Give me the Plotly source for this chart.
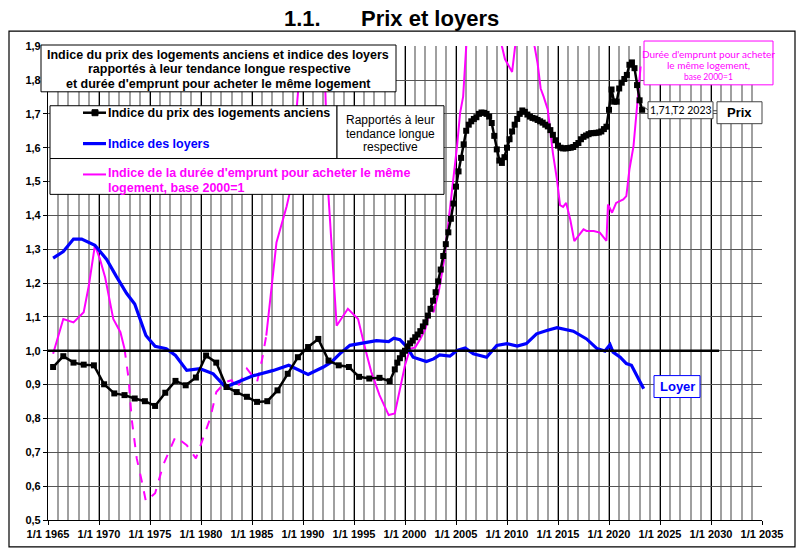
import plotly.graph_objects as go

# ---------------- DATA ----------------
# Indice du prix des logements anciens (annual then quarterly)
prix_x = [1965.5, 1966.5, 1967.5, 1968.5, 1969.5, 1970.5, 1971.5, 1972.5, 1973.5, 1974.5,
          1975.5, 1976.5, 1977.5, 1978.5, 1979.5, 1980.5, 1981.5, 1982.5, 1983.5, 1984.5,
          1985.5, 1986.5, 1987.5, 1988.5, 1989.5, 1990.5, 1991.5, 1992.5, 1993.5, 1994.5,
          1995.5, 1996.5, 1997.5, 1998.5,
          1999.0, 1999.25, 1999.5, 1999.75, 2000.0, 2000.25, 2000.5, 2000.75,
          2001.0, 2001.25, 2001.5, 2001.75, 2002.0, 2002.25, 2002.5, 2002.75,
          2003.0, 2003.25, 2003.5, 2003.75, 2004.0, 2004.25, 2004.5, 2004.75,
          2005.0, 2005.25, 2005.5, 2005.75, 2006.0, 2006.25, 2006.5, 2006.75,
          2007.0, 2007.25, 2007.5, 2007.75, 2008.0, 2008.25, 2008.5, 2008.75,
          2009.0, 2009.25, 2009.5, 2009.75, 2010.0, 2010.25, 2010.5, 2010.75,
          2011.0, 2011.25, 2011.5, 2011.75, 2012.0, 2012.25, 2012.5, 2012.75,
          2013.0, 2013.25, 2013.5, 2013.75, 2014.0, 2014.25, 2014.5, 2014.75,
          2015.0, 2015.25, 2015.5, 2015.75, 2016.0, 2016.25, 2016.5, 2016.75,
          2017.0, 2017.25, 2017.5, 2017.75, 2018.0, 2018.25, 2018.5, 2018.75,
          2019.0, 2019.25, 2019.5, 2019.75, 2020.0, 2020.25, 2020.5, 2020.75,
          2021.0, 2021.25, 2021.5, 2021.75, 2022.0, 2022.25, 2022.5, 2022.75,
          2023.0, 2023.25]
prix_y = [0.952, 0.984, 0.965, 0.959, 0.957, 0.901, 0.874, 0.869, 0.859, 0.851,
          0.837, 0.876, 0.911, 0.898, 0.921, 0.986, 0.965, 0.893, 0.878, 0.864,
          0.849, 0.851, 0.883, 0.932, 0.981, 1.011, 1.035, 0.971, 0.957, 0.952,
          0.923, 0.918, 0.920, 0.910,
          0.945, 0.965, 0.978, 0.990, 1.000, 1.013, 1.022, 1.030,
          1.040, 1.048, 1.058, 1.072, 1.084, 1.104, 1.124, 1.148,
          1.173, 1.205, 1.240, 1.280, 1.315, 1.350, 1.390, 1.435,
          1.485, 1.530, 1.570, 1.610, 1.650, 1.668, 1.678, 1.685,
          1.690, 1.700, 1.704, 1.703, 1.700, 1.692, 1.673, 1.635,
          1.595, 1.562, 1.555, 1.572, 1.600, 1.625, 1.648, 1.668,
          1.685, 1.700, 1.710, 1.706, 1.698, 1.692, 1.688, 1.686,
          1.682, 1.678, 1.674, 1.668, 1.663, 1.652, 1.638, 1.622,
          1.606, 1.600, 1.598, 1.598, 1.599, 1.600, 1.602, 1.608,
          1.614, 1.625, 1.632, 1.636, 1.640, 1.643, 1.643, 1.644,
          1.645, 1.648, 1.655, 1.662, 1.712, 1.772, 1.736, 1.736,
          1.775, 1.792, 1.803, 1.815, 1.845, 1.852, 1.835, 1.785,
          1.740, 1.712]

# Indice des loyers
loyer_x = [1965.5, 1966.5, 1967.5, 1968.3, 1969.6, 1970.75, 1971.7, 1972.7, 1973.5, 1974.0,
           1974.6, 1975.5, 1976.6, 1977.5, 1978.6, 1979.9, 1981.2, 1982.4, 1983.8, 1985.1,
           1987.1, 1988.6, 1990.5, 1992.0, 1992.8, 1993.6, 1994.6, 1996.2, 1997.2, 1998.4,
           1998.9, 1999.5, 2000.2, 2000.8, 2001.5, 2002.1, 2002.8, 2003.4, 2004.4, 2005.1,
           2005.9, 2006.7, 2008.0, 2009.0, 2010.0, 2011.0, 2011.9, 2012.9, 2013.9, 2014.9,
           2016.5, 2017.8, 2018.8, 2019.6, 2020.1, 2020.4, 2021.1, 2021.7, 2022.2, 2022.7,
           2023.4]
loyer_y = [1.274, 1.293, 1.330, 1.330, 1.312, 1.270, 1.220, 1.170, 1.138, 1.094,
           1.045, 1.013, 1.006, 0.986, 0.942, 0.947, 0.932, 0.893, 0.910, 0.926,
           0.942, 0.957, 0.930, 0.952, 0.967, 0.991, 1.016, 1.025, 1.030, 1.027,
           1.037, 1.033, 1.011, 0.981, 0.974, 0.968, 0.976, 0.988, 0.984, 1.001,
           1.008, 0.991, 0.981, 1.016, 1.021, 1.014, 1.021, 1.050, 1.060, 1.068,
           1.058, 1.035, 1.007, 0.999, 1.018, 0.996, 0.981, 0.962, 0.957, 0.927,
           0.888]

# Indice de la durée d'emprunt (base 2000=1): solid, dashed (estimated), solid
duree1_x = [1965.5, 1966.5, 1967.5, 1968.5, 1969.0, 1969.6, 1970.1, 1970.6, 1971.4, 1972.1, 1972.5]
duree1_y = [0.991, 1.094, 1.084, 1.114, 1.192, 1.312, 1.270, 1.217, 1.094, 1.055, 1.006]

duree2_x = [1972.5, 1972.9, 1973.2, 1973.7, 1974.2, 1974.6, 1975.5, 1976.3, 1977.5, 1978.6,
            1979.5, 1980.2, 1980.9, 1981.5, 1982.4, 1983.0, 1983.5, 1984.5, 1985.5, 1986.0, 1986.4]
duree2_y = [1.006, 0.918, 0.800, 0.682, 0.614, 0.555, 0.579, 0.663, 0.746, 0.721,
            0.682, 0.741, 0.800, 0.878, 0.908, 0.913, 0.888, 0.947, 0.908, 0.976, 1.045]

duree3_x = [1986.4, 1986.9, 1987.4, 1988.4, 1988.7, 1989.5, 1990.2, 1991.3, 1992.2, 1992.5,
            1993.3, 1994.4, 1995.4, 1996.1, 1996.7, 1997.5, 1998.4, 1999.0, 1999.5, 2000.0,
            2000.5, 2001.0, 2001.5, 2002.0, 2002.5, 2002.8, 2003.3, 2003.8, 2004.1, 2004.4,
            2004.7, 2005.1, 2005.4, 2005.7, 2006.0, 2006.6, 2008.5, 2009.5, 2009.8, 2010.5,
            2010.8, 2011.5, 2012.3, 2012.7, 2013.0, 2013.3, 2013.6, 2014.0, 2014.5, 2014.9,
            2015.2, 2015.5, 2015.8, 2016.2, 2016.6, 2017.1, 2017.5, 2017.8, 2018.5, 2019.1,
            2019.6, 2019.75, 2019.9, 2020.3, 2020.7, 2021.4, 2021.7, 2022.0, 2022.4, 2022.7,
            2022.9, 2023.1]
duree3_y = [1.045, 1.182, 1.320, 1.427, 1.467, 1.760, 2.050, 2.050, 1.760, 1.457,
            1.074, 1.124, 1.094, 1.006, 0.937, 0.869, 0.810, 0.815, 0.888, 0.957,
            1.006, 1.010, 1.035, 1.065, 1.124, 1.114, 1.173, 1.261, 1.339, 1.418,
            1.486, 1.604, 1.702, 1.751, 1.898, 2.100, 2.150, 1.900, 1.862, 1.824,
            1.900, 2.050, 2.050, 1.900, 1.849, 1.775, 1.750, 1.712, 1.584, 1.506,
            1.430, 1.425, 1.437, 1.388, 1.324, 1.345, 1.359, 1.354, 1.354, 1.349,
            1.329, 1.325, 1.432, 1.408, 1.437, 1.447, 1.457, 1.535, 1.604, 1.700,
            1.760, 1.840]

REF_LEVEL = 1.0
REF_END = 2030.8
x_tick_years = list(range(1965, 2036, 5))
x_tick_text = ["1/1 %d" % y for y in x_tick_years]

# ---------------- LAYOUT HELPERS ----------------
W, H = 800, 552
L, R, T, B = 48, 762, 46, 522


def px(x):
    return (x - L) / (R - L)


def py(y):
    return (B - y) / (B - T)


MAG = "#FF00FF"
BLUE = "#0000FF"
FONT = "Liberation Sans"

fig = go.Figure()
fig.add_trace(go.Scatter(x=duree1_x, y=duree1_y, mode="lines",
                         line=dict(color=MAG, width=2), showlegend=False))
fig.add_trace(go.Scatter(x=duree2_x, y=duree2_y, mode="lines",
                         line=dict(color=MAG, width=2, dash="dash"), showlegend=False))
fig.add_trace(go.Scatter(x=duree3_x, y=duree3_y, mode="lines",
                         line=dict(color=MAG, width=2), showlegend=False))
fig.add_trace(go.Scatter(x=loyer_x, y=loyer_y, mode="lines",
                         line=dict(color=BLUE, width=3.2), showlegend=False))
fig.add_trace(go.Scatter(x=prix_x, y=prix_y, mode="lines+markers",
                         line=dict(color="black", width=2.5),
                         marker=dict(symbol="square", size=6, color="black"),
                         showlegend=False))

shapes = []
# reference line at 1.0
shapes.append(dict(type="line", xref="x", yref="y", x0=1965, x1=REF_END,
                   y0=REF_LEVEL, y1=REF_LEVEL, line=dict(color="black", width=2.5),
                   layer="above"))


def rect(x0, y0, x1, y1, color="black", fill="white", width=1):
    shapes.append(dict(type="rect", xref="paper", yref="paper",
                       x0=px(x0), x1=px(x1), y0=py(y1), y1=py(y0),
                       line=dict(color=color, width=width), fillcolor=fill, layer="above"))


def hline(x0, x1, y, color, width, yy=None):
    shapes.append(dict(type="line", xref="paper", yref="paper",
                       x0=px(x0), x1=px(x1), y0=py(y), y1=py(y if yy is None else yy),
                       line=dict(color=color, width=width), layer="above"))


# outer frame
shapes.append(dict(type="rect", xref="paper", yref="paper", x0=px(9), x1=px(795),
                   y0=py(549), y1=py(31), line=dict(color="black", width=1.2),
                   fillcolor="rgba(0,0,0,0)", layer="above"))
# boxes
rect(41, 45, 396, 92)
rect(50, 106, 337, 159)
rect(337, 106, 444, 159)
rect(50, 159, 444, 195)
rect(644, 41, 773, 85, color=MAG)
rect(648, 102, 713, 119, color="#444444")
rect(717, 102, 762, 124, color="#444444")
rect(654, 377, 700, 399, color=BLUE)
# connectors
hline(643, 648, 107, "#444444", 1, yy=110)
hline(713, 717, 111, "#444444", 1)
# legend samples
hline(83, 106, 113, "black", 2.5)
rect(92, 110, 98, 116, color="black", fill="black")
hline(83, 106, 144, BLUE, 3.2)
hline(83, 106, 175, MAG, 2)

ann = []


def text(x, y, s, size=12, color="black", bold=False, anchor="center", family=FONT):
    ann.append(dict(xref="paper", yref="paper", x=px(x), y=py(y), text=s,
                    showarrow=False, xanchor=anchor, yanchor="middle",
                    font=dict(family=family, size=size, color=color,
                              weight="bold" if bold else "normal")))


text(302, 18, "1.1.", size=22, bold=True)
text(430, 18, "Prix et loyers", size=22, bold=True)
text(218, 55, "Indice du prix des logements anciens et indice des loyers", 12.5, bold=True)
text(219, 69, "rapportés à leur tendance longue respective", 12.5, bold=True)
text(218, 84, "et durée d'emprunt pour acheter le même logement", 12.5, bold=True)
text(106, 113, "Indice du prix des logements anciens", 12.5, bold=True, anchor="left")
text(106, 144, "Indice des loyers", 12.5, color=BLUE, bold=True, anchor="left")
text(390, 120, "Rapportés à leur", 12)
text(390, 134, "tendance longue", 12)
text(390, 147, "respective", 12)
text(106, 174, "Indice de la durée d'emprunt pour acheter le même", 12.5, color=MAG, bold=True, anchor="left")
text(106, 188.5, "logement, base 2000=1", 12.5, color=MAG, bold=True, anchor="left")
text(708, 54, "Durée d'emprunt pour acheter", 10, color=MAG, family="Lato")
text(708, 65, "le même logement,", 10, color=MAG, family="Lato")
text(708, 77, "base 2000=1", 8.5, color=MAG, family="Lato")
text(680.5, 110.5, "1,71,T2 2023", 10.5, family="Lato")
text(739.5, 113, "Prix", 13, bold=True)
text(677, 388, "Loyer", 13, color=BLUE, bold=True)

fig.update_layout(
    width=W, height=H,
    margin=dict(l=L, r=W - R, t=T, b=H - B, pad=0),
    paper_bgcolor="white", plot_bgcolor="white",
    separators=", ",
    font=dict(family=FONT, size=11, color="black"),
    shapes=shapes, annotations=ann,
    xaxis=dict(range=[1965, 2035], tickmode="array", tickvals=x_tick_years,
               ticktext=x_tick_text, showgrid=True, gridcolor="black", gridwidth=1,
               minor=dict(dtick=1, tick0=1965, showgrid=True, gridcolor="#a0a0a0", gridwidth=1.6),
               showline=True, linecolor="black", linewidth=1.2, zeroline=False,
               ticks="outside", ticklen=4, tickcolor="black",
               tickfont=dict(size=11, weight="bold", family=FONT)),
    yaxis=dict(range=[0.5, 1.9005], tickmode="linear", tick0=0.5, dtick=0.1,
               tickformat=".1f", showgrid=True, gridcolor="#555555", gridwidth=1,
               showline=True, linecolor="black", linewidth=1.2, zeroline=False,
               ticks="outside", ticklen=4, tickcolor="black",
               tickfont=dict(size=11, weight="bold", family=FONT)),
)

fig.write_html("out.html")
